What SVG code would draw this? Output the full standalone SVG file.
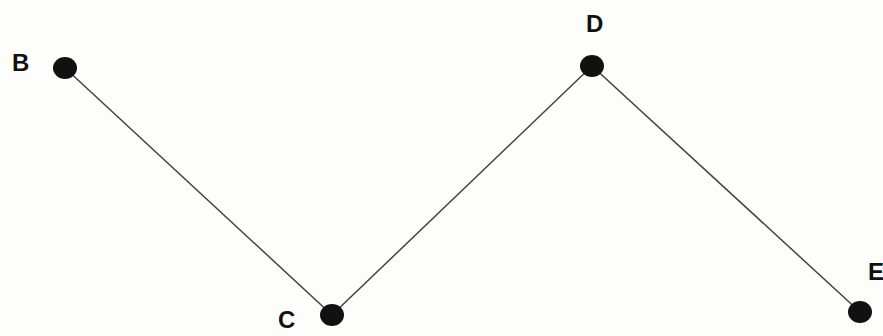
<svg xmlns="http://www.w3.org/2000/svg" width="883" height="336" viewBox="0 0 883 336">
<style>
.lbl{font-family:"Liberation Sans",Arial,sans-serif;font-weight:bold;font-size:24px;fill:#111}
.dot{fill:#111}
.edge{stroke:#444;stroke-width:1.5;fill:none}
</style>
<rect width="883" height="336" fill="#fdfdfb"/>
<g id="connectors">
<polyline class="edge" points="65,68 332,315 592,66 860,312"/>
</g>
<g id="B"><ellipse class="dot" cx="65" cy="68" rx="12" ry="11"/><text class="lbl" x="12" y="71">B</text></g>
<g id="C"><ellipse class="dot" cx="332" cy="315" rx="12" ry="11"/><text class="lbl" x="278" y="328">C</text></g>
<g id="D"><ellipse class="dot" cx="592" cy="66" rx="12" ry="11"/><text class="lbl" x="586" y="32">D</text></g>
<g id="E"><ellipse class="dot" cx="860" cy="312" rx="12" ry="11"/><text class="lbl" x="868" y="280">E</text></g>
</svg>
